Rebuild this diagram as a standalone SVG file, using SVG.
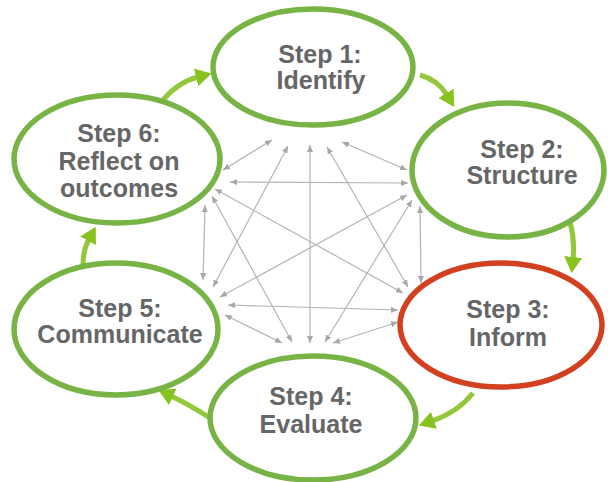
<svg xmlns="http://www.w3.org/2000/svg" width="608" height="482" viewBox="0 0 608 482">
<style>
.node{fill:#fff;stroke:#78b445;stroke-width:5.5}
.red{stroke:#d3401f}
.t{font-family:"Liberation Sans",Arial,sans-serif;font-weight:bold;font-size:25px;fill:#666;text-anchor:middle}
.g{fill:none;stroke:#b4b4b4;stroke-width:1.2;marker-start:url(#gh);marker-end:url(#gh)}
.c{fill:none;stroke:#92c83a;stroke-width:5;marker-end:url(#lh)}
</style>
<defs>
<marker id="gh" viewBox="0 0 7 6" refX="7" refY="3" markerWidth="7" markerHeight="6" markerUnits="userSpaceOnUse" orient="auto-start-reverse"><path d="M0,0 L7,3 L0,6 z" fill="#a8a8a8"/></marker>
<marker id="lh" viewBox="0 0 16 18" refX="2" refY="9" markerWidth="16" markerHeight="18" markerUnits="userSpaceOnUse" orient="auto"><path d="M0,0 L16,9 L0,18 z" fill="#88c21e"/></marker>
</defs>
<rect width="608" height="482" fill="#fff"/>
<g id="connectors">
<path class="g" d="M272,140 L223,170"/>
<path class="g" d="M288,146 L213,287"/>
<path class="g" d="M310,145 L310,343"/>
<path class="g" d="M327,147 L408,287"/>
<path class="g" d="M342,142 L407,170"/>
<path class="g" d="M230,182 L408,183"/>
<path class="g" d="M215,189 L403,293"/>
<path class="g" d="M212,196 L292,342"/>
<path class="g" d="M205,205 L203,280"/>
<path class="g" d="M407,195 L220,297"/>
<path class="g" d="M412,200 L325,342"/>
<path class="g" d="M228,305 L398,310"/>
<path class="g" d="M225,315 L282,343"/>
<path class="g" d="M333,343 L398,322"/>
<path class="g" d="M420,206 L421,283"/>
<path class="c" d="M163,100 Q178,82 198,77"/>
<path class="c" d="M420,75 Q438,80 447,95"/>
<path class="c" d="M570,222 Q575,240 573,259"/>
<path class="c" d="M473,393 Q458,412 432,421"/>
<path class="c" d="M210,418 Q190,405 171,396"/>
<path class="c" d="M83,265 Q83,250 89,239"/>
</g>
<g id="step1"><ellipse class="node" cx="313" cy="67" rx="100" ry="58"/><text class="t" x="320" y="63">Step 1:</text><text class="t" x="321" y="89">Identify</text></g>
<g id="step2"><ellipse class="node" cx="508" cy="170" rx="96" ry="67"/><text class="t" x="522" y="158">Step 2:</text><text class="t" x="522" y="184">Structure</text></g>
<g id="step3"><ellipse class="node red" cx="501" cy="325" rx="101" ry="62"/><text class="t" x="508" y="318">Step 3:</text><text class="t" x="508" y="346">Inform</text></g>
<g id="step4"><ellipse class="node" cx="313" cy="418" rx="103" ry="62"/><text class="t" x="311" y="405">Step 4:</text><text class="t" x="311" y="433">Evaluate</text></g>
<g id="step5"><ellipse class="node" cx="116" cy="329" rx="102" ry="66"/><text class="t" x="120" y="317">Step 5:</text><text class="t" x="120" y="343">Communicate</text></g>
<g id="step6"><ellipse class="node" cx="117" cy="159" rx="103" ry="64"/><text class="t" x="119" y="142">Step 6:</text><text class="t" x="119" y="170">Reflect on</text><text class="t" x="119" y="197">outcomes</text></g>
</svg>
